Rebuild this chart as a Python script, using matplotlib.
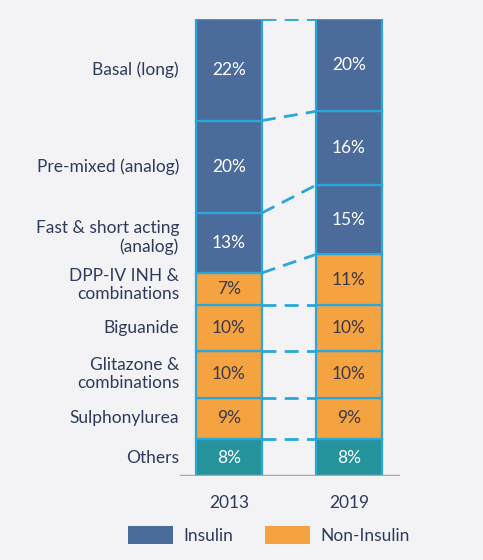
import numpy as np
import matplotlib.pyplot as plt
from matplotlib.patches import Patch

plt.rcParams['font.family'] = ['Lato', 'DejaVu Sans']

years = ['2013', '2019']
categories = ['Others', 'Sulphonylurea', 'Glitazone &\ncombinations', 'Biguanide',
              'DPP-IV INH &\ncombinations', 'Fast & short acting\n(analog)',
              'Pre-mixed (analog)', 'Basal (long)']
groups = ['other', 'non', 'non', 'non', 'non', 'ins', 'ins', 'ins']
share_2013 = [8, 9, 10, 10, 7, 13, 20, 22]
share_2019 = [8, 9, 10, 10, 11, 15, 16, 20]

bg = '#f3f3f6'
edge = '#2aa6d9'
text_col = '#2d3a5a'
fill = {'ins': '#4b6c9b', 'non': '#f5a240', 'other': '#24939c'}
lab_col = {'ins': 'white', 'non': '#3a3a48', 'other': 'white'}
fs = 12.5

fig = plt.figure(figsize=(4.83, 5.6), dpi=100, facecolor=bg)
ax = fig.add_axes([180 / 483, 84 / 560, 220 / 483, 457 / 560])
ax.set_facecolor(bg)
ax.set_xlim(0, 220)
ax.set_ylim(0, 99)

xs = [49, 169]
w = 66
data = [share_2013, share_2019]

bottoms = []
for xi, vals in zip(xs, data):
    cum = np.concatenate([[0], np.cumsum(vals)])
    bottoms.append(cum)
    for i, v in enumerate(vals):
        ax.bar(xi, v, width=w, bottom=cum[i], color=fill[groups[i]],
               edgecolor=edge, linewidth=1.6, zorder=2)
        ax.text(xi, cum[i] + v / 2, f'{v}%', ha='center', va='center',
                fontsize=fs, color=lab_col[groups[i]], zorder=3)

# dashed connectors between the two bars
c1, c2 = bottoms
for k in range(1, len(c1)):
    ax.plot([xs[0] + w / 2, xs[1] - w / 2], [c1[k], c2[k]], color=edge,
            lw=2, linestyle=(0, (5, 3)), zorder=1)

# category labels on the left, at 2013 segment centres
nudge = {5: 1.2, 4: 0.8}
for i, cat in enumerate(categories):
    y = c1[i] + share_2013[i] / 2 + nudge.get(i, 0)
    ax.text(-1, y, cat, ha='right', va='center', fontsize=fs,
            color=text_col, linespacing=1.15, clip_on=False)

for xi, yr in zip(xs, years):
    ax.text(xi, -5.8, yr, ha='center', va='center', fontsize=fs,
            color=text_col, clip_on=False)

ax.axhline(0, color='#a8a8a8', lw=2.5, zorder=4)
for s in ax.spines.values():
    s.set_visible(False)
ax.set_xticks([])
ax.set_yticks([])

handles = [Patch(facecolor=fill['ins'], label='Insulin'),
           Patch(facecolor=fill['non'], label='Non-Insulin')]
fig.legend(handles=handles, loc='center', bbox_to_anchor=(0.557, 0.044),
           ncol=2, frameon=False, fontsize=fs, labelcolor=text_col,
           handlelength=2.6, handleheight=1.2, columnspacing=1.8,
           handletextpad=0.6)

fig.savefig('out.png', dpi=100, facecolor=bg)
